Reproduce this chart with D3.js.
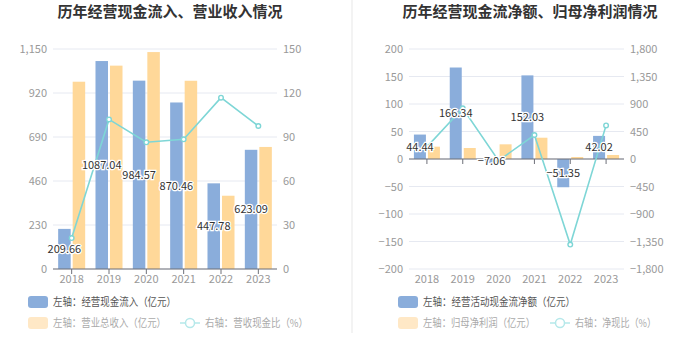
<!DOCTYPE html>
<html><head><meta charset="utf-8">
<script src="https://cdn.jsdelivr.net/npm/d3@7/dist/d3.min.js"></script>
<style>
body{margin:0;background:#fff;}
svg{display:block;font-family:"Noto Sans CJK SC","Noto Sans",sans-serif;}
</style></head>
<body><svg id="c" width="700" height="359"></svg>
<script>
const years = ['2018','2019','2020','2021','2022','2023'];
// Left chart
const cashIn = [209.66,1087.04,984.57,870.46,447.78,623.09];
const revenue = [979,1063,1134,984,383,638];
const cashRatio = [21.1,102,86.4,88.4,116.8,97.5];
const leftTicksA = [0,230,460,690,920,1150];
const rightTicksA = [0,30,60,90,120,150];
// Right chart
const netCash = [44.44,166.34,-7.06,152.03,-51.35,42.02];
const netProfit = [22.4,20,26.7,38.7,3.6,7.3];
const netRatio = [198,830,-26,393,-1400,550];
const leftTicksB = [-200,-150,-100,-50,0,50,100,150,200];
const rightTicksB = [-1800,-1350,-900,-450,0,450,900,1350,1800];

const BLUE='#8aaddb', ORANGE='#ffd899', LINE='#7ed6d6';
const svg = d3.select('#c');

// separator
svg.append('rect').attr('x',351).attr('y',0).attr('width',2).attr('height',333).attr('fill','#f3f3f3');

function fmt(v){return d3.format(',')(v);}

function drawChart(o){
  const g = svg.append('g');
  const x = d3.scaleBand().domain(years).range([o.x0,o.x1]);
  const yL = d3.scaleLinear().domain([o.lt[0],o.lt[o.lt.length-1]]).range([269,49]);
  const yR = d3.scaleLinear().domain([o.rt[0],o.rt[o.rt.length-1]]).range([269,49]);
  // title
  g.append('text').attr('x',o.tx).attr('y',17).attr('text-anchor','middle')
    .attr('font-size',15).attr('font-weight','bold').attr('fill','#333').text(o.title);
  // grid
  g.selectAll('.grid').data(o.lt).enter().append('line')
    .attr('x1',o.x0).attr('x2',o.x1).attr('y1',d=>yL(d)).attr('y2',d=>yL(d))
    .attr('stroke','#e6e9f1').attr('stroke-width',1);
  // axis labels
  g.selectAll('.ll').data(o.lt).enter().append('text')
    .attr('x',o.x0-6).attr('y',d=>yL(d)+4).attr('text-anchor','end')
    .attr('font-size',11).attr('fill','#999').text(fmt);
  g.selectAll('.rl').data(o.rt).enter().append('text')
    .attr('x',o.x1+6).attr('y',d=>yR(d)+4).attr('text-anchor','start')
    .attr('font-size',11).attr('fill','#999').text(fmt);
  const bw = x.bandwidth()*0.335;
  // bars
  g.selectAll('.b1').data(o.s1).enter().append('rect')
    .attr('x',(d,i)=>x(years[i])+x.bandwidth()/2-1-bw)
    .attr('y',d=>Math.min(yL(d),yL(0))).attr('width',bw)
    .attr('height',d=>Math.abs(yL(d)-yL(0))).attr('fill',BLUE);
  g.selectAll('.b2').data(o.s2).enter().append('rect')
    .attr('x',(d,i)=>x(years[i])+x.bandwidth()/2+1)
    .attr('y',d=>Math.min(yL(d),yL(0))).attr('width',bw)
    .attr('height',d=>Math.abs(yL(d)-yL(0))).attr('fill',ORANGE);
  // axis line
  const y0 = yL(0);
  g.append('line').attr('x1',o.x0).attr('x2',o.x1).attr('y1',y0).attr('y2',y0)
    .attr('stroke','#6e7079').attr('stroke-width',1);
  g.selectAll('.tk').data(years).enter().append('line')
    .attr('x1',d=>x(d)+x.bandwidth()/2).attr('x2',d=>x(d)+x.bandwidth()/2)
    .attr('y1',y0).attr('y2',y0+5).attr('stroke','#6e7079');
  g.selectAll('.xl').data(years).enter().append('text')
    .attr('x',d=>x(d)+x.bandwidth()/2).attr('y',283).attr('text-anchor','middle')
    .attr('font-size',11).attr('fill','#999').text(d=>d);
  // line
  const line = d3.line().x((d,i)=>x(years[i])+x.bandwidth()/2).y(d=>yR(d));
  g.append('path').datum(o.s3).attr('d',line).attr('fill','none')
    .attr('stroke',LINE).attr('stroke-width',1.6);
  g.selectAll('.pt').data(o.s3).enter().append('circle')
    .attr('cx',(d,i)=>x(years[i])+x.bandwidth()/2).attr('cy',d=>yR(d)).attr('r',2.3)
    .attr('fill','#fff').attr('stroke',LINE).attr('stroke-width',1.4);
  // labels
  g.selectAll('.lb').data(o.s1).enter().append('text')
    .attr('x',(d,i)=>x(years[i])+x.bandwidth()/2-1-bw/2)
    .attr('y',d=>(yL(d)+yL(0))/2+4).attr('text-anchor','middle')
    .attr('font-size',11).attr('fill','#333')
    .attr('stroke','#fff').attr('stroke-width',2.5).attr('paint-order','stroke')
    .text(d=>d3.format('.2f')(d));
  // legend
  const L = g.append('g');
  L.append('rect').attr('x',o.lx).attr('y',296).attr('width',20).attr('height',12).attr('rx',3).attr('fill',BLUE);
  L.append('text').attr('x',o.lx+25).attr('y',306).attr('font-size',11).attr('fill','#555')
    .attr('textLength',o.lw[0]).attr('lengthAdjust','spacingAndGlyphs').text(o.leg[0]);
  L.append('rect').attr('x',o.lx).attr('y',317).attr('width',20).attr('height',12).attr('rx',3).attr('fill','#ffe8c6');
  L.append('text').attr('x',o.lx+25).attr('y',327).attr('font-size',11).attr('fill','#aaa')
    .attr('textLength',o.lw[1]).attr('lengthAdjust','spacingAndGlyphs').text(o.leg[1]);
  L.append('line').attr('x1',o.lx2).attr('x2',o.lx2+20).attr('y1',323).attr('y2',323).attr('stroke','#b5e8ea').attr('stroke-width',1.5);
  L.append('circle').attr('cx',o.lx2+10).attr('cy',323).attr('r',4.5).attr('fill','#fff').attr('stroke','#b5e8ea').attr('stroke-width',1.5);
  L.append('text').attr('x',o.lx2+25).attr('y',327).attr('font-size',11).attr('fill','#aaa')
    .attr('textLength',o.lw[2]).attr('lengthAdjust','spacingAndGlyphs').text(o.leg[2]);
}

drawChart({x0:53,x1:277,tx:170,title:'历年经营现金流入、营业收入情况',
  lt:leftTicksA,rt:rightTicksA,s1:cashIn,s2:revenue,s3:cashRatio,
  lx:28,lx2:180,lw:[123,113,103],leg:['左轴：经营现金流入（亿元）','左轴：营业总收入（亿元）','右轴：营收现金比（%）']});
drawChart({x0:409,x1:624,tx:530,title:'历年经营现金流净额、归母净利润情况',
  lt:leftTicksB,rt:rightTicksB,s1:netCash,s2:netProfit,s3:netRatio,
  lx:398,lx2:550,lw:[152,112,81],leg:['左轴：经营活动现金流净额（亿元）','左轴：归母净利润（亿元）','右轴：净现比（%）']});
</script></body></html>
